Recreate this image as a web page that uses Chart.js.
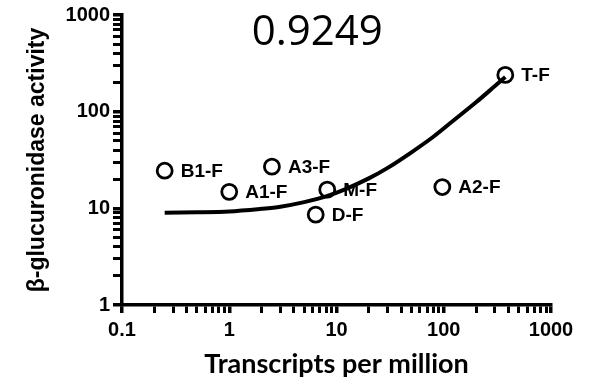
<!DOCTYPE html>
<html>
<head>
<meta charset="utf-8">
<script src="https://cdn.jsdelivr.net/npm/chart.js@4.4.1/dist/chart.umd.min.js"></script>
<style>
html,body{margin:0;padding:0;background:#fff;}
#wrap{width:591px;height:382px;position:relative;}
</style>
</head>
<body>
<div id="wrap"><canvas id="c" width="591" height="382"></canvas></div>
<script>
// ---- data ----
const sampleNames = ['B1-F', 'A1-F', 'A3-F', 'M-F', 'D-F', 'A2-F', 'T-F'];
const transcriptsPerMillion = [0.25, 1.0, 2.5, 8.2, 6.4, 97, 375];
const glucuronidaseActivity = [24.5, 14.8, 27, 15.6, 8.6, 16.6, 240];

// fitted curve
const fitX = [0.25, 0.5, 1, 2, 3, 5, 8, 12, 20, 30, 50, 80, 120, 200, 300, 375];
const fitY = [9.0, 9.1, 9.3, 9.9, 10.4, 11.6, 13.3, 15.7, 20.4, 26.2, 38, 55, 79, 125, 184, 228];

const correlationText = '0.9249';
const xTickLabels = [0.1, 1, 10, 100, 1000];
const yTickLabels = [1, 10, 100, 1000];
const minorMultipliers = [1, 2, 3, 4, 5, 6, 7, 8, 9];
const xTitle = 'Transcripts per million';
const yTitle = '\u03B2-glucuronidase activity';

function buildTicks(decades) {
  const out = [];
  for (let i = 0; i < decades.length - 1; i++) {
    for (const m of minorMultipliers) out.push({ value: +(decades[i] * m).toPrecision(6) });
  }
  out.push({ value: decades[decades.length - 1] });
  return out;
}
function isMajor(list, v) { return list.some(d => Math.abs(d - v) < d * 1e-6); }

const tickFont = { family: '"Liberation Sans", Arial, sans-serif', size: 20, weight: 'bold' };

const labelPlugin = {
  id: 'pointLabels',
  afterDatasetsDraw(chart) {
    const meta = chart.getDatasetMeta(0);
    const ctx = chart.ctx;
    ctx.save();
    ctx.fillStyle = '#000';
    ctx.font = 'bold 19px "Liberation Sans", Arial, sans-serif';
    ctx.textBaseline = 'middle';
    ctx.textAlign = 'left';
    meta.data.forEach((el, i) => {
      ctx.fillText(sampleNames[i], el.x + 16, el.y + 1);
    });
    ctx.restore();
  }
};

const headPlugin = {
  id: 'headText',
  afterDraw(chart) {
    const a = chart.chartArea;
    const ctx = chart.ctx;
    ctx.save();
    ctx.fillStyle = '#000';
    ctx.font = '42px "Open Sans", sans-serif';
    ctx.textAlign = 'center';
    ctx.textBaseline = 'middle';
    ctx.fillText(correlationText, a.left + (a.right - a.left) * 0.455, a.top + 18);
    ctx.restore();
  }
};

new Chart(document.getElementById('c'), {
  type: 'scatter',
  data: {
    datasets: [
      {
        label: 'samples',
        data: transcriptsPerMillion.map((x, i) => ({ x, y: glucuronidaseActivity[i] })),
        pointStyle: 'circle',
        pointRadius: 7.5,
        pointBorderWidth: 2.8,
        borderColor: '#000',
        backgroundColor: 'rgba(0,0,0,0)',
        order: 2
      },
      {
        label: 'fit',
        type: 'line',
        data: fitX.map((x, i) => ({ x, y: fitY[i] })),
        borderColor: '#000',
        borderWidth: 4,
        pointRadius: 0,
        fill: false,
        tension: 0.3,
        order: 1
      }
    ]
  },
  options: {
    responsive: false,
    animation: false,
    devicePixelRatio: 1,
    layout: { padding: { top: 15, right: 40, left: 0, bottom: 0 } },
    plugins: { legend: { display: false }, tooltip: { enabled: false } },
    scales: {
      x: {
        type: 'logarithmic',
        min: 0.1,
        max: 1000,
        afterBuildTicks(s) { s.ticks = buildTicks(xTickLabels); },
        afterFit(s) { s.height = 77; },
        ticks: {
          autoSkip: false,
          maxRotation: 0,
          color: '#000',
          font: tickFont,
          padding: 5,
          callback(v) { return isMajor(xTickLabels, v) ? String(v) : ''; }
        },
        grid: {
          drawOnChartArea: false,
          drawTicks: true,
          tickLength: 8,
          color: '#000',
          lineWidth(ctx) { return ctx.tick && isMajor(xTickLabels, ctx.tick.value) ? 3.5 : 3; }
        },
        border: { display: true, color: '#000', width: 3.5 },
        title: {
          display: true,
          text: xTitle,
          color: '#000',
          font: { family: 'Lato, "Open Sans", sans-serif', size: 27, weight: 'bold' },
          padding: { top: 0, bottom: 2 }
        }
      },
      y: {
        type: 'logarithmic',
        min: 1,
        max: 1000,
        afterBuildTicks(s) { s.ticks = buildTicks(yTickLabels); },
        afterFit(s) { s.width = 122; },
        ticks: {
          autoSkip: false,
          color: '#000',
          font: tickFont,
          padding: 3,
          callback(v) { return isMajor(yTickLabels, v) ? String(v) : ''; }
        },
        grid: {
          drawOnChartArea: false,
          drawTicks: true,
          tickLength: 9,
          color: '#000',
          lineWidth(ctx) { return ctx.tick && isMajor(yTickLabels, ctx.tick.value) ? 3.5 : 3; }
        },
        border: { display: true, color: '#000', width: 3.5 },
        title: {
          display: true,
          text: yTitle,
          color: '#000',
          font: { family: '"Liberation Sans", Arial, sans-serif', size: 23, weight: 'bold' },
          padding: { top: 24, bottom: 0 }
        }
      }
    }
  },
  plugins: [labelPlugin, headPlugin]
});
</script>
</body>
</html>
